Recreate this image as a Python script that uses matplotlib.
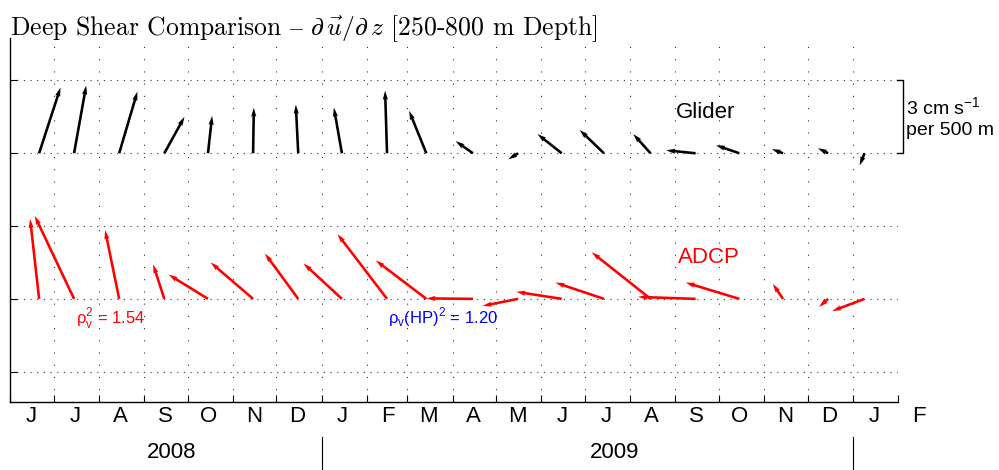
import matplotlib
matplotlib.use('Agg')
import matplotlib.pyplot as plt
import matplotlib.dates as mdates
import matplotlib.transforms as mtransforms
import numpy as np
import datetime as dt

# ---------------- data ----------------
dates = ['2008-06-21', '2008-07-15', '2008-08-15', '2008-09-15', '2008-10-15',
         '2008-11-15', '2008-12-16', '2009-01-15', '2009-02-15', '2009-03-14',
         '2009-04-15', '2009-05-16', '2009-06-15', '2009-07-14', '2009-08-15',
         '2009-09-15', '2009-10-15', '2009-11-14', '2009-12-15', '2010-01-09']

# shear components (cm s^-1 per 500 m)
glider_u = [0.88, 0.50, 0.75, 0.83, 0.17, 0.03, -0.10, -0.33, -0.08, -0.71,
            -0.71, -0.40, -1.00, -1.00, -0.71, -1.21, -0.96, -0.46, -0.42, -0.20]
glider_v = [2.71, 2.79, 2.54, 1.50, 1.54, 1.88, 2.00, 1.88, 2.58, 1.75,
            0.50, -0.25, 0.79, 0.96, 0.79, 0.12, 0.33, 0.17, 0.21, -0.50]

adcp_u = [-0.37, -1.62, -0.58, -0.46, -1.62, -1.75, -1.37, -1.58, -2.04, -2.08,
          -1.92, -1.46, -1.87, -2.00, -2.42, -2.37, -2.21, -0.42, -0.37, -1.33]
adcp_v = [3.29, 3.42, 2.83, 1.42, 1.00, 1.50, 1.87, 1.46, 2.67, 1.58,
          0.02, -0.29, 0.29, 0.67, 1.92, 0.08, 0.67, 0.62, -0.33, -0.50]

glider_base = 0.0
adcp_base = -6.0

month_letters = ['J', 'J', 'A', 'S', 'O', 'N', 'D', 'J', 'F', 'M', 'A', 'M',
                 'J', 'J', 'A', 'S', 'O', 'N', 'D', 'J', 'F']
year_labels = ['2008', '2009']
year_label_dates = ['2008-09-20', '2009-07-21']
year_sep_dates = ['2009-01-01', '2010-01-01']

title = r'Deep Shear Comparison $–$ $\partial\,\vec{u}/\partial\,z$ [250-800 m Depth]'
label_glider = 'Glider'
label_adcp = 'ADCP'
label_rho1 = r'ρ$_\mathregular{v}^\mathregular{2}$ = 1.54'
label_rho2 = r'ρ$_\mathregular{v}$(HP)$^\mathregular{2}$ = 1.20'
scale_line1 = r'3 cm s$^{\mathregular{-1}}$'
scale_line2 = 'per 500 m'

# ---------------- figure ----------------
plt.rcParams['font.family'] = ['Liberation Sans', 'DejaVu Sans']
W, H = 999, 470
fig = plt.figure(figsize=(W / 100, H / 100), dpi=100)


def fx(px):
    return px / W


def fy(py):
    return 1 - py / H


ax_l, ax_r, ax_t, ax_b = 10, 898, 38, 402
ax = fig.add_axes([fx(ax_l), fy(ax_b), fx(ax_r - ax_l), (ax_b - ax_t) / H])

x = mdates.date2num([dt.datetime.strptime(d, '%Y-%m-%d') for d in dates])
n = len(x)

qkw = dict(angles='uv', scale_units='y', scale=1, units='dots', width=2.6,
           headwidth=2.0, headlength=3.5, headaxislength=3.2, pivot='tail', zorder=3)
ax.quiver(x, np.full(n, glider_base), glider_u, glider_v, color='black', **qkw)
ax.quiver(x, np.full(n, adcp_base), adcp_u, adcp_v, color='#ff0000', **qkw)

xmin = mdates.date2num(dt.datetime(2008, 6, 1))
xmax = mdates.date2num(dt.datetime(2010, 2, 1))
ax.set_xlim(xmin, xmax)
ax.set_ylim(-10.25, 4.75)

# month-start ticks
month_starts = []
y, m = 2008, 6
for i in range(22):
    month_starts.append(dt.datetime(y, m, 1))
    m += 1
    if m > 12:
        m = 1
        y += 1
ax.set_xticks(mdates.date2num(month_starts[:21]))
ax.set_xticklabels([])
ax.set_yticks([-9, -6, -3, 0, 3])
ax.set_yticklabels([])
ax.tick_params(direction='in', length=5, width=0.8, color='black')

ax.xaxis.grid(True, linestyle=(0, (1, 10)), linewidth=0.8, color='#333333')
ax.yaxis.grid(True, linestyle=(0, (1, 5)), linewidth=0.8, color='#333333')
ax.set_axisbelow(True)

for s in ['top', 'right']:
    ax.spines[s].set_visible(False)
for s in ['left', 'bottom']:
    ax.spines[s].set_linewidth(1.0)

# month labels (mid-month, incl. the trailing one outside limits)
tr_x = mtransforms.blended_transform_factory(ax.transData, fig.transFigure)
for i, lab in enumerate(month_letters):
    mid = mdates.date2num(month_starts[i]) + 14.5
    fig.text(mid, fy(417), lab, transform=tr_x, ha='center', va='center',
             fontsize=16)

for lab, d in zip(year_labels, year_label_dates):
    xd = mdates.date2num(dt.datetime.strptime(d, '%Y-%m-%d'))
    fig.text(xd, fy(452), lab, transform=tr_x, ha='center', va='center', fontsize=16)
for d in year_sep_dates:
    xd = mdates.date2num(dt.datetime.strptime(d, '%Y-%m-%d'))
    fig.add_artist(plt.Line2D([xd, xd], [fy(437), fy(470)], transform=tr_x,
                              color='black', linewidth=0.8))

# annotations
fig.text(fx(706), fy(118), label_glider, ha='center', va='baseline', fontsize=16,
         color='black')
fig.text(fx(709), fy(263), label_adcp, ha='center', va='baseline', fontsize=16,
         color='#ff0000')
fig.text(fx(76), fy(323), label_rho1, ha='left', va='baseline', fontsize=12,
         color='#ff0000')
fig.text(fx(388), fy(323), label_rho2, ha='left', va='baseline', fontsize=12,
         color='#0000ff')

# scale bracket
tr_b = mtransforms.blended_transform_factory(fig.transFigure, ax.transData)
bx0, bx1 = fx(897), fx(903)
fig.add_artist(plt.Line2D([bx0, bx1, bx1, bx0], [0, 0, 3, 3], transform=tr_b,
                          color='black', linewidth=1.0))
fig.text(fx(906), fy(115), scale_line1, ha='left', va='baseline', fontsize=14)
fig.text(fx(906), fy(135), scale_line2, ha='left', va='baseline', fontsize=14)

# title
fig.text(fx(10), fy(35), title, ha='left', va='baseline', fontsize=18.5,
         family=['cmr10', 'DejaVu Serif'], math_fontfamily='cm')

fig.savefig('out.png', dpi=100)
